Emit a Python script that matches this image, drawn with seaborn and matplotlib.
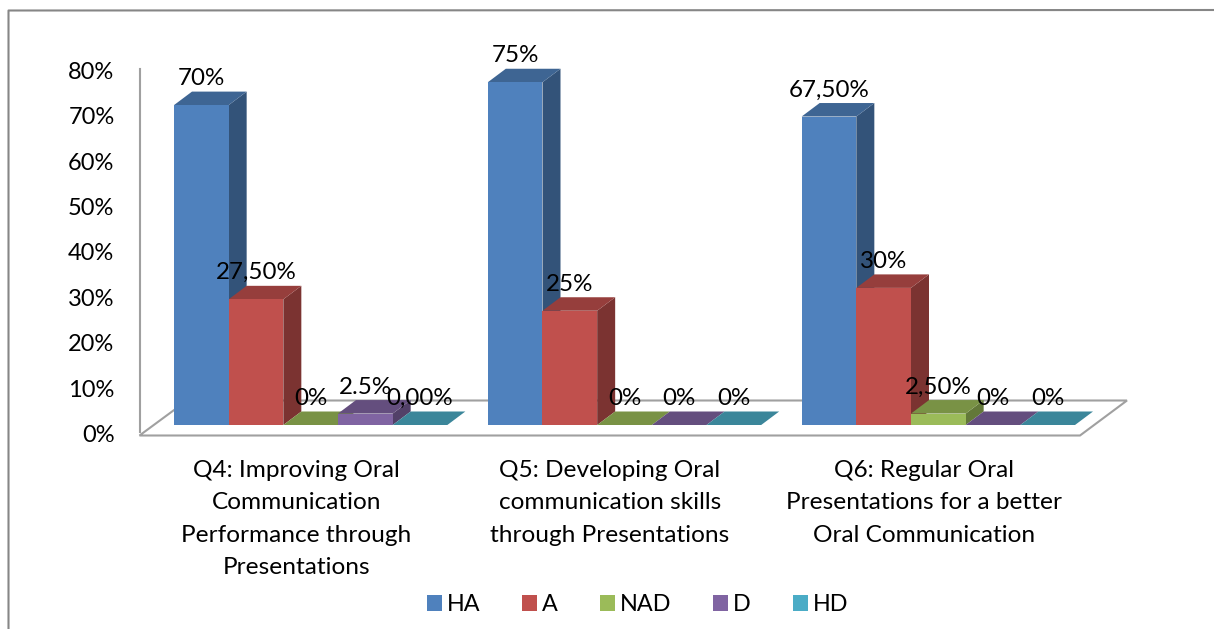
import matplotlib
matplotlib.use("Agg")
import matplotlib.pyplot as plt
import matplotlib.colors as mcolors
from matplotlib.lines import Line2D
from matplotlib.patches import Polygon
from matplotlib.transforms import IdentityTransform, ScaledTranslation
import pandas as pd
import seaborn as sns

categories = ["Q4: Improving Oral\nCommunication\nPerformance through\nPresentations",
              "Q5: Developing Oral\ncommunication skills\nthrough Presentations",
              "Q6: Regular Oral\nPresentations for a better\nOral Communication"]
series_names = ["HA", "A", "NAD", "D", "HD"]
ha = [70, 75, 67.5]
a = [27.5, 25, 30]
nad = [0, 0, 2.5]
d = [2.5, 0, 0]
hd = [0, 0, 0]
ha_labels = ["70%", "75%", "67,50%"]
a_labels = ["27,50%", "25%", "30%"]
nad_labels = ["0%", "0%", "2,50%"]
d_labels = ["2.5%", "0%", "0%"]
hd_labels = ["0,00%", "0%", "0%"]
colors = ["#4F81BD", "#C0504D", "#9BBB59", "#8064A2", "#4BACC6"]
y_ticks = [0, 10, 20, 30, 40, 50, 60, 70, 80]
y_tick_labels = ["0%", "10%", "20%", "30%", "40%", "50%", "60%", "70%", "80%"]

W, H = 1214, 629
FONT = "Lato"
FS_TICK = 17
FS_LABEL = 17.4
FS_CAT = 17.6
FS_LEG = 16.8
GRAY = "#A0A0A0"

sns.set_theme(style="white")
plt.rcParams["font.family"] = [FONT, "DejaVu Sans"]

rows = []
for name, vals in zip(series_names, [ha, a, nad, d, hd]):
    for c, v in zip(categories, vals):
        rows.append({"category": c, "series": name, "value": v})
df = pd.DataFrame(rows)

fig = plt.figure(figsize=(W / 100, H / 100), dpi=100, facecolor="white")


def rect(l, t, r, b):
    return [l / W, 1 - b / H, (r - l) / W, (b - t) / H]


# value axis (sits slightly in front of the bars' baseline, as in the 3-D view)
ax_y = fig.add_axes(rect(139.5, 69, 1000, 432), zorder=0)
ax_y.set_ylim(0, 80)
ax_y.set_xticks([])
ax_y.set_yticks(y_ticks)
ax_y.set_yticklabels(y_tick_labels, fontsize=FS_TICK, color="black")
ax_y.tick_params(axis="y", length=0, pad=18)
for lab in ax_y.get_yticklabels():
    lab.set_transform(lab.get_transform() + ScaledTranslation(0, -1.5 / 100, fig.dpi_scale_trans))
for s in ["top", "right", "bottom"]:
    ax_y.spines[s].set_visible(False)
ax_y.spines["left"].set_color(GRAY)
ax_y.spines["left"].set_linewidth(1.5)
ax_y.patch.set_alpha(0)

# floor
floor_px = [(139.5, H - 435.5), (1080, H - 435.5), (1127, H - 400.5), (187, H - 400.5)]
ax_y.add_patch(Polygon(floor_px, closed=True, fill=False, edgecolor=GRAY, linewidth=1.5,
                       transform=IdentityTransform(), clip_on=False))

# bars
ax = fig.add_axes(rect(153.75, 59.4, 1095.25, 425), zorder=1)
ax.patch.set_alpha(0)
sns.barplot(data=df, x="category", y="value", hue="series", order=categories,
            hue_order=series_names, palette=colors, saturation=1, width=0.871, gap=0,
            linewidth=0, ax=ax)
ax.set_xlim(-0.5, 2.5)
ax.set_ylim(0, 80)
ax.set_xlabel("")
ax.set_ylabel("")
ax.set_yticks([])
for s in ax.spines.values():
    s.set_visible(False)
ax.tick_params(axis="x", length=0, pad=25.5, labelsize=FS_CAT)
for lab in ax.get_xticklabels():
    lab.set_transform(lab.get_transform() + ScaledTranslation(-14.5 / 100, 0, fig.dpi_scale_trans))
    lab.set_linespacing(1.65)
    lab.set_color("black")
    lab.set_ha("center")

dx = 18 / (941.5 / 3)
dy = 13.5 / (365.6 / 80)


def shade(col, f):
    r, g, b = mcolors.to_rgb(col)
    return (r * f, g * f, b * f)


label_sets = [ha_labels, a_labels, nad_labels, d_labels, hd_labels]
for si, (container, col, labs) in enumerate(zip(ax.containers, colors, label_sets)):
    for ci, (bar, text) in enumerate(zip(container.patches, labs)):
        x0, w, h = bar.get_x(), bar.get_width(), bar.get_height()
        x1 = x0 + w
        z = 2 + si * 3
        bar.set_zorder(z + 2)
        ax.add_patch(Polygon([(x1, 0), (x1 + dx, dy), (x1 + dx, h + dy), (x1, h)], closed=True,
                             facecolor=shade(col, 0.64), edgecolor="none", zorder=z, clip_on=False))
        ax.add_patch(Polygon([(x0, h), (x0 + dx, h + dy), (x1 + dx, h + dy), (x1, h)], closed=True,
                             facecolor=shade(col, 0.78), edgecolor="none", zorder=z + 1, clip_on=False))
        ax.annotate(text, xy=(x0 + w / 2, h), xytext=(0, 26.5 * 0.72), textcoords="offset points",
                    ha="center", va="center", fontsize=FS_LABEL, color="black", zorder=50,
                    annotation_clip=False)

handles, labels = ax.get_legend_handles_labels()
ax.get_legend().remove()
fig.legend(handles, labels, loc="center", bbox_to_anchor=(637.5 / W, 1 - 604.5 / H), ncol=5,
           frameon=False, fontsize=FS_LEG, handlelength=0.65, handleheight=0.65,
           handletextpad=0.2, columnspacing=1.8, borderpad=0, labelcolor="black")

# chart frame: only the top and left edges fall inside the picture
fig.add_artist(Line2D([8.5 / W, 8.5 / W, 1.0], [0.0, 1 - 10.5 / H, 1 - 10 / H],
                      color="#868686", linewidth=1.5, transform=fig.transFigure))

fig.savefig("out.png", dpi=100)
